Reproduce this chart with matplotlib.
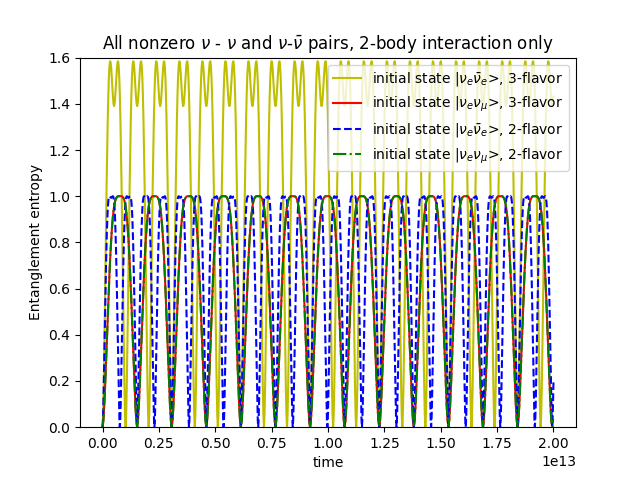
import numpy as np
import matplotlib
matplotlib.use("Agg")
import matplotlib.pyplot as plt

# ---- values ----
t_end = 2.0e13                      # last time sample
period_3f_ee = 1.0227e13 / 10       # yellow: |nu_e nubar_e>, 3-flavor
period_3f_emu = 1.534e13 / 10       # red:    |nu_e nu_mu>, 3-flavor
period_2f_ee = 0.767e13 / 10        # blue:   |nu_e nubar_e>, 2-flavor
period_2f_emu = 1.534e13 / 10       # green:  |nu_e nu_mu>, 2-flavor

# entropy over the first half of one period, read at phase steps of 0.025
phase_step = 0.025
half_3f_ee = [0, 0.055, 0.173, 0.328, 0.505, 0.689, 0.871, 1.043, 1.198, 1.330,
              1.436, 1.514, 1.563, 1.584, 1.580, 1.555, 1.517, 1.472, 1.431,
              1.401, 1.390]
half_3f_emu = [0, 0.030, 0.095, 0.180, 0.277, 0.378, 0.478, 0.575, 0.664, 0.743,
               0.811, 0.868, 0.912, 0.946, 0.969, 0.985, 0.993, 0.998, 1.000,
               1.000, 1.000]
half_2f_ee = [0, 0.033, 0.103, 0.194, 0.297, 0.404, 0.510, 0.610, 0.701, 0.782,
              0.848, 0.902, 0.943, 0.971, 0.988, 0.997, 1.000, 0.999, 0.996,
              0.994, 0.993]
half_2f_emu = [0, 0.030, 0.095, 0.180, 0.277, 0.378, 0.478, 0.575, 0.664, 0.743,
               0.811, 0.868, 0.912, 0.946, 0.969, 0.985, 0.993, 0.998, 1.000,
               1.000, 1.000]

labels = [r"initial state $|\nu_e\bar{\nu}_e$>, 3-flavor",
          r"initial state $|\nu_e\nu_\mu$>, 3-flavor",
          r"initial state $|\nu_e\bar{\nu}_e$>, 2-flavor",
          r"initial state $|\nu_e\nu_\mu$>, 2-flavor"]


def build_series(half, period):
    """Repeat the read profile (symmetric within a period) along the time axis."""
    half = np.asarray(half, dtype=float)
    one = np.concatenate([half, half[-2::-1]])[:-1]        # one period, no endpoint
    phases = np.arange(len(one)) * phase_step
    n = int(np.ceil(t_end / period)) + 1
    t = (np.arange(n)[:, None] + phases[None, :]).ravel() * period
    s = np.tile(one, n)
    keep = t <= t_end
    return t[keep], s[keep]


fig, ax = plt.subplots(figsize=(6.4, 4.8), dpi=100)

t1, s1 = build_series(half_3f_ee, period_3f_ee)
t2, s2 = build_series(half_3f_emu, period_3f_emu)
t3, s3 = build_series(half_2f_ee, period_2f_ee)
t4, s4 = build_series(half_2f_emu, period_2f_emu)

ax.plot(t1, s1, color="y", linestyle="-", label=labels[0])
ax.plot(t2, s2, color="r", linestyle="-", label=labels[1])
ax.plot(t3, s3, color="b", linestyle="--", label=labels[2])
ax.plot(t4, s4, color="g", linestyle="-.", label=labels[3])

ax.set_ylim(0, 1.6)
ax.set_xlabel("time")
ax.set_ylabel("Entanglement entropy")
ax.set_title(r"All nonzero $\nu$ - $\nu$ and $\nu$-$\bar{\nu}$ pairs, 2-body interaction only")
ax.legend(loc="upper right")

fig.savefig("out.png", dpi=100)
